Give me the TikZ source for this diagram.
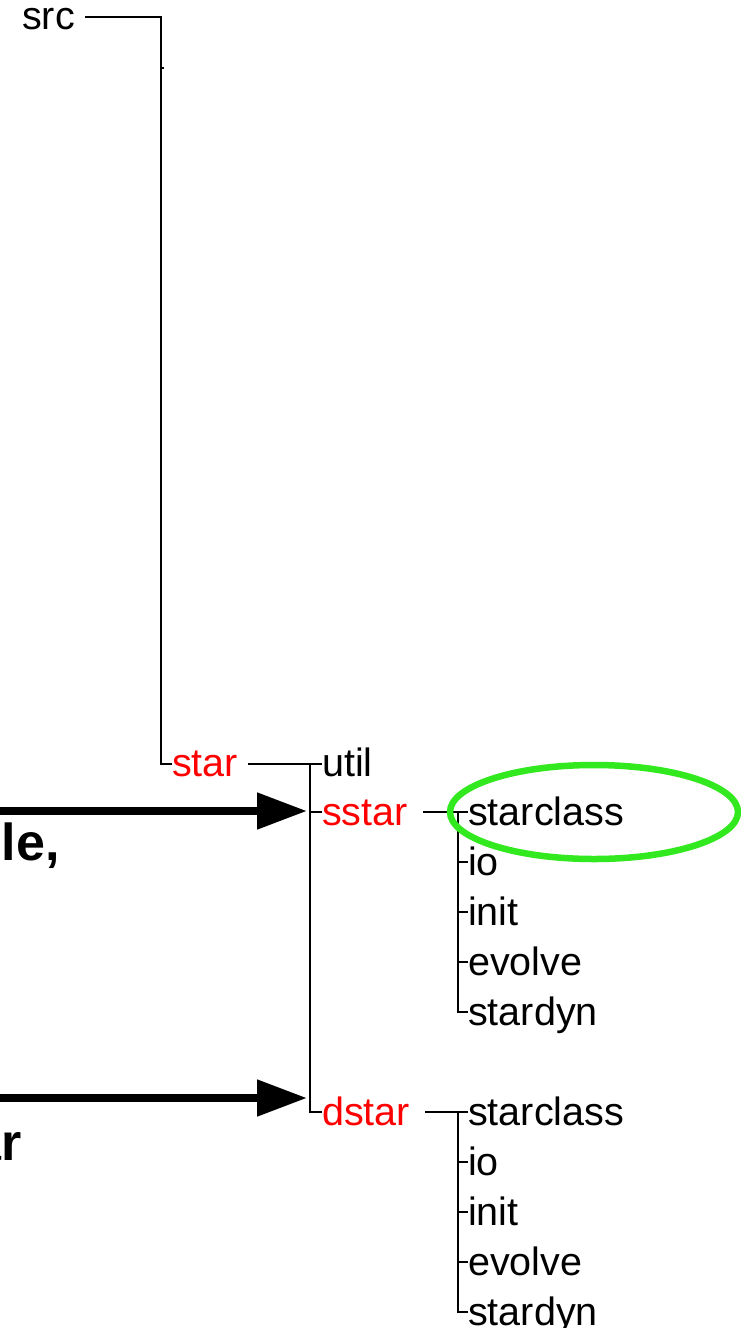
\documentclass[tikz,border=0pt]{standalone}
\usepackage{fontspec}
\setmainfont{Liberation Sans}
\usetikzlibrary{arrows.meta}
\definecolor{dirred}{RGB}{255,0,0}
\definecolor{ringgreen}{RGB}{50,232,30}
\begin{document}
\begin{tikzpicture}[x=1pt,y=-1pt,
  item/.style={anchor=base west,inner sep=0pt,font=\fontsize{39.5}{42}\selectfont},
  dir/.style={item,text=dirred},
  branch/.style={line width=2pt},
  bigarrow/.style={line width=8pt,-{Triangle[length=50pt,width=35pt]}},
  note/.style={anchor=base east,inner sep=0pt,font=\fontsize{52}{56}\selectfont\bfseries},
  ring/.style={draw=ringgreen,line width=6.5pt}]
\useasboundingbox (0,0) rectangle (741,1328);
\clip (0,0) rectangle (741,1328);

% directory names
\node[item] (src) at (22,29) {src};
\node[dir] (star) at (172,776) {star};
\node[item] (util) at (322,776) {util};
\node[dir] (sstar) at (322,825) {sstar};
\node[dir] (dstar) at (322,1125) {dstar};
\foreach \n/\t/\y in {1/starclass/812,2/io/862,3/init/912,4/evolve/962,5/stardyn/1012}
  \node[item] (s\n) at (468,\y+13) {\t};
\foreach \n/\t/\y in {1/starclass/1112,2/io/1162,3/init/1212,4/evolve/1262,5/stardyn/1312}
  \node[item] (d\n) at (468,\y+13) {\t};

% junction points of the tree
\coordinate (srcR) at (161,17);
\coordinate (starJ) at (310,764);
\coordinate (sstarJ) at (310,812);
\coordinate (dstarJ) at (310,1112);
\coordinate (sJ) at (458,812);
\coordinate (dJ) at (458,1112);

% src branch
\draw[branch] ([xshift=10pt]src.east |- srcR) -- (srcR) -- (srcR |- starJ) -- (star.west |- starJ);
\draw[branch] (161,68) -- (164,68);
% star branch
\draw[branch] ([xshift=10pt]star.east |- starJ) -- (util.west |- starJ);
\draw[branch] (starJ) -- (dstarJ) -- (dstar.west |- dstarJ);
\draw[branch] (sstarJ) -- (sstar.west |- sstarJ);
% sstar children
\draw[branch] ([xshift=15pt]sstar.east |- sJ) -- (s1.west |- sJ);
\draw[branch] (sJ) -- (sJ |- 0,1012) -- (s5.west |- 0,1012);
\foreach \n/\y in {2/862,3/912,4/962}
  \draw[branch] (sJ |- 0,\y) -- (s\n.west |- 0,\y);
% dstar children
\draw[branch] ([xshift=15pt]dstar.east |- dJ) -- (d1.west |- dJ);
\draw[branch] (dJ) -- (dJ |- 0,1312) -- (d5.west |- 0,1312);
\foreach \n/\y in {2/1162,3/1212,4/1262}
  \draw[branch] (dJ |- 0,\y) -- (d\n.west |- 0,\y);

% highlight ring
\draw[ring] (594,812) ellipse [x radius=144, y radius=47];

% annotations with arrows
\node[note] (n1) at (60,860) {ble,};
\node[note] (n2) at (22,1160) {ar};
\coordinate (a1) at (0,811);
\coordinate (a2) at (0,1098);
\draw[bigarrow] (a1) -- ([xshift=-3pt]sstarJ |- a1);
\draw[bigarrow] (a2) -- ([xshift=-3pt]sstarJ |- a2);
\end{tikzpicture}
\end{document}
